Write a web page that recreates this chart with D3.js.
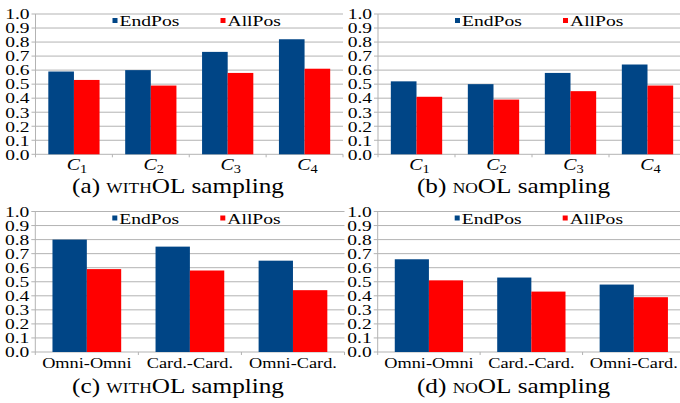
<!DOCTYPE html>
<html>
<head>
<meta charset="utf-8">
<script src="https://cdn.jsdelivr.net/npm/d3@7"></script>
<style>
  html, body { margin: 0; padding: 0; background: #fff; }
  svg { display: block; font-family: 'Liberation Serif', 'Times New Roman', serif; }
</style>
</head>
<body>
<svg id="canvas" width="680" height="403"></svg>
<script>
'use strict';

/* categories */
const clusterCats = ['1', '2', '3', '4'];          // shown as C with subscript
const pairCats = ['Omni-Omni', 'Card.-Card.', 'Omni-Card.'];
const seriesNames = ['EndPos', 'AllPos'];
const yTickValues = [0.0, 0.1, 0.2, 0.3, 0.4, 0.5, 0.6, 0.7, 0.8, 0.9, 1.0];

/* series values */
const withOLEnd = [0.59, 0.60, 0.73, 0.82];
const withOLAll = [0.53, 0.49, 0.58, 0.61];
const noOLEnd = [0.52, 0.50, 0.58, 0.64];
const noOLAll = [0.41, 0.39, 0.45, 0.49];
const pairWithEnd = [0.80, 0.75, 0.65];
const pairWithAll = [0.59, 0.58, 0.44];
const pairNoEnd = [0.66, 0.53, 0.48];
const pairNoAll = [0.51, 0.43, 0.39];

/* captions */
const captionTags = ['(a) ', '(b) ', '(c) ', '(d) '];
const captionModes = ['withOL', 'noOL', 'withOL', 'noOL'];

const colors = ['#004586', '#ff0000'];
const gridColor = '#b3b3b3';
const SX = 1.3;   // the figure is stretched horizontally

const svg = d3.select('#canvas');

/**
 * draw one bar chart panel
 */
function drawPanel(p){
  let g = svg.append('g');

  let x = d3.scaleBand()
    .domain(p.cats)
    .range([p.x0, p.x1])
    .paddingInner(1 / 3)
    .paddingOuter(1 / 6);
  let xs = d3.scaleBand()
    .domain(seriesNames)
    .range([0, x.bandwidth()]);
  let y = d3.scaleLinear()
    .domain([0, 1])
    .range([p.yBottom, p.yTop]);

  /* gridlines (with small ticks left of the axis) */
  g.append('g').selectAll('line')
    .data(yTickValues)
    .enter().append('line')
      .attr('x1', p.x0 - 4)
      .attr('x2', p.x1)
      .attr('y1', function(d){ return y(d); })
      .attr('y2', function(d){ return y(d); })
      .style('stroke', gridColor)
      .style('stroke-width', 1);

  /* y axis labels */
  let yAxis = g.append('g')
    .attr('transform', 'translate(' + p.x0 + ',0)')
    .call(d3.axisLeft(y).tickValues(yTickValues).tickSize(0).tickPadding(6)
      .tickFormat(d3.format('.1f')));
  yAxis.select('.domain').remove();
  yAxis.selectAll('text')
    .attr('x', -6 / SX)
    .attr('transform', 'scale(' + SX + ',1)')
    .style('font-family', "'Liberation Serif', serif")
    .style('font-size', '15px')
    .style('fill', '#000');

  /* vertical axis line and category boundary ticks */
  g.append('line')
    .attr('x1', p.x0).attr('x2', p.x0)
    .attr('y1', p.yTop).attr('y2', p.yBottom + 3)
    .style('stroke', gridColor);
  let bounds = p.cats.map(function(c){ return x(c) - x.step() * x.paddingOuter(); });
  bounds.push(p.x1);
  g.append('g').selectAll('line')
    .data(bounds.slice(1))
    .enter().append('line')
      .attr('x1', function(d){ return d; })
      .attr('x2', function(d){ return d; })
      .attr('y1', p.yBottom)
      .attr('y2', p.yBottom + 3)
      .style('stroke', gridColor);

  /* bars */
  let rows = p.cats.map(function(c, i){
    return { cat: c, values: [p.end[i], p.all[i]] };
  });
  let groups = g.append('g').selectAll('g')
    .data(rows)
    .enter().append('g')
      .attr('transform', function(d){ return 'translate(' + x(d.cat) + ',0)'; });
  groups.selectAll('rect')
    .data(function(d){ return d.values.map(function(v, j){ return { s: seriesNames[j], v: v, j: j }; }); })
    .enter().append('rect')
      .attr('x', function(d){ return xs(d.s); })
      .attr('width', xs.bandwidth())
      .attr('y', function(d){ return y(d.v); })
      .attr('height', function(d){ return y(0) - y(d.v); })
      .style('fill', function(d){ return colors[d.j]; });

  /* category labels */
  let labels = g.append('g').selectAll('text')
    .data(p.cats)
    .enter().append('text')
      .attr('transform', function(d){
        return 'translate(' + (x(d) + x.bandwidth() / 2 + p.labelShift) + ',' + p.labelY + ') scale(' + p.labelSX + ',1)';
      })
      .attr('text-anchor', 'middle')
      .style('font-size', p.labelSize + 'px');
  if (p.subscript){
    labels.append('tspan')
      .style('font-style', 'italic')
      .text('C');
    labels.append('tspan')
      .attr('dy', 3)
      .style('font-size', '12px')
      .text(function(d){ return d; });
  } else {
    labels.text(function(d){ return d; });
  }

  /* legend */
  let legendX = [p.x0 + 77, p.x0 + 185];
  let leg = g.append('g').selectAll('g')
    .data(seriesNames)
    .enter().append('g')
      .attr('transform', function(d, i){ return 'translate(' + legendX[i] + ',' + p.yTop + ')'; });
  leg.append('rect')
    .attr('x', 0).attr('y', 4)
    .attr('width', 5).attr('height', 5)
    .style('fill', function(d, i){ return colors[i]; });
  leg.append('text')
    .attr('transform', 'translate(7,12) scale(1.4,1)')
    .style('font-size', '14px')
    .text(function(d){ return d; });

  /* caption */
  let cap = svg.append('text')
    .attr('transform', 'translate(' + p.capX + ',' + p.capY + ') scale(1.2,1)')
    .attr('text-anchor', 'middle')
    .style('font-size', '21px');
  cap.append('tspan').text(p.tag);
  cap.append('tspan').style('font-variant', 'small-caps').text(p.mode);
  cap.append('tspan').text(' sampling');
}

drawPanel({
  cats: clusterCats, end: withOLEnd, all: withOLAll, subscript: true,
  x0: 35.5, x1: 343, yTop: 14, yBottom: 154.3,
  labelY: 170, labelSize: 16.5, labelSX: 1.2, labelShift: 3,
  tag: captionTags[0], mode: captionModes[0], capX: 178, capY: 193
});
drawPanel({
  cats: clusterCats, end: noOLEnd, all: noOLAll, subscript: true,
  x0: 378, x1: 686, yTop: 14, yBottom: 154.3,
  labelY: 170, labelSize: 16.5, labelSX: 1.2, labelShift: 3,
  tag: captionTags[1], mode: captionModes[1], capX: 513.5, capY: 193
});
drawPanel({
  cats: pairCats, end: pairWithEnd, all: pairWithAll, subscript: false,
  x0: 35.3, x1: 344.5, yTop: 211.5, yBottom: 352,
  labelY: 368, labelSize: 15, labelSX: 1.22, labelShift: 0,
  tag: captionTags[2], mode: captionModes[2], capX: 178, capY: 393
});
drawPanel({
  cats: pairCats, end: pairNoEnd, all: pairNoAll, subscript: false,
  x0: 377.7, x1: 685, yTop: 211.5, yBottom: 352,
  labelY: 368, labelSize: 15, labelSX: 1.22, labelShift: 0,
  tag: captionTags[3], mode: captionModes[3], capX: 513.5, capY: 393
});
</script>
</body>
</html>
